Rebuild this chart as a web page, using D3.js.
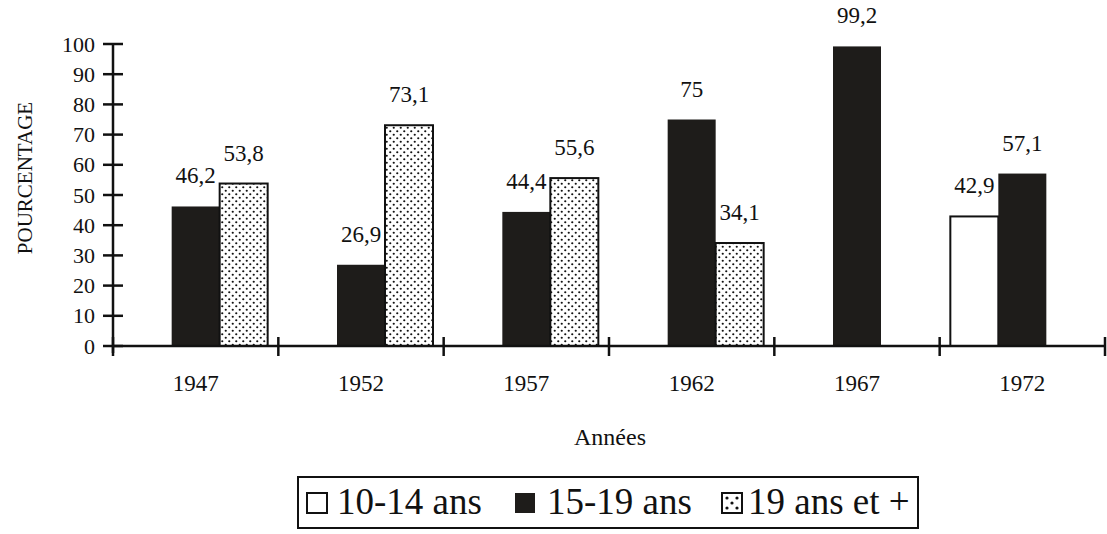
<!DOCTYPE html>
<html>
<head>
<meta charset="utf-8">
<script src="https://cdn.jsdelivr.net/npm/d3@7"></script>
<style>
  html, body { margin: 0; padding: 0; background: #fff; }
  svg { display: block; }
  svg text { font-family: 'Liberation Serif', 'DejaVu Serif', 'Times New Roman', Times, serif !important; fill: #111; }
</style>
</head>
<body>
<div id="chart"></div>
<script>
// ---- data ----
const years = ["1947", "1952", "1957", "1962", "1967", "1972"];
const seriesNames = ["10-14 ans", "15-19 ans", "19 ans et +"];
const s1014 = [null, null, null, null, null, 42.9];
const s1519 = [46.2, 26.9, 44.4, 75, 99.2, 57.1];
const s19p  = [53.8, 73.1, 55.6, 34.1, null, null];
const yTicks = [0, 10, 20, 30, 40, 50, 60, 70, 80, 90, 100];
const yLabel = "POURCENTAGE";
const xLabel = "Années";

const seriesValues = [s1014, s1519, s19p];

const W = 1107, H = 534;
const svg = d3.select("#chart").append("svg").attr("width", W).attr("height", H);

const defs = svg.append("defs");
const pat = defs.append("pattern").attr("id", "dots")
  .attr("patternUnits", "userSpaceOnUse").attr("width", 7).attr("height", 7);
pat.append("rect").attr("width", 7).attr("height", 7).attr("fill", "#fff");
pat.append("circle").attr("cx", 1.75).attr("cy", 1.75).attr("r", 1.1).attr("fill", "#111");
pat.append("circle").attr("cx", 5.25).attr("cy", 5.25).attr("r", 1.1).attr("fill", "#111");

const fills = ["#fff", "#1e1c1a", "url(#dots)"];

const x0 = 113, x1 = 1105, yBase = 346, yTop = 44;
const x = d3.scaleBand().domain(years).range([x0, x1]).padding(0);
const groupW = 144;
const xs = d3.scaleBand().domain(seriesNames).range([0, groupW]).padding(0);
const gOff = (x.bandwidth() - groupW) / 2;
const y = d3.scaleLinear().domain([0, 100]).range([yBase, yTop]);

const fmt = v => String(v).replace(".", ",");

// bars
seriesNames.forEach((name, si) => {
  const data = years.map((yr, i) => ({ yr, v: seriesValues[si][i] })).filter(d => d.v != null);
  const g = svg.append("g");
  g.selectAll("rect").data(data).enter().append("rect")
    .attr("x", d => x(d.yr) + gOff + xs(name))
    .attr("y", d => y(d.v))
    .attr("width", xs.bandwidth())
    .attr("height", d => y(0) - y(d.v))
    .attr("fill", fills[si])
    .attr("stroke", "#111")
    .attr("stroke-width", si === 1 ? 0 : 2);
  g.selectAll("text").data(data).enter().append("text")
    .attr("x", d => x(d.yr) + gOff + xs(name) + xs.bandwidth() / 2)
    .attr("y", d => y(d.v) - 23)
    .attr("text-anchor", "middle")
    .attr("font-size", 23)
    .text(d => fmt(d.v));
});

// y axis
const yAxis = d3.axisLeft(y).tickValues(yTicks).tickSize(0).tickPadding(18);
const gy = svg.append("g").attr("transform", `translate(${x0},0)`).call(yAxis);
gy.attr("font-family", null);
gy.select(".domain").remove();
gy.selectAll("text").attr("font-size", 22).attr("fill", "#111");
svg.append("line").attr("x1", x0).attr("x2", x0).attr("y1", y(100)).attr("y2", yBase + 7)
  .attr("stroke", "#111").attr("stroke-width", 2.5);
svg.selectAll(".ytick").data(yTicks).enter().append("line")
  .attr("x1", x0 - 10).attr("x2", x0 + 10)
  .attr("y1", d => y(d)).attr("y2", d => y(d))
  .attr("stroke", "#111").attr("stroke-width", 2.5);

// x axis
svg.append("line").attr("x1", x0).attr("x2", x1).attr("y1", yBase).attr("y2", yBase)
  .attr("stroke", "#111").attr("stroke-width", 2.5);
const bounds = years.map(yr => x(yr)).concat([x1]);
svg.selectAll(".xtick").data(bounds).enter().append("line")
  .attr("x1", d => d).attr("x2", d => d)
  .attr("y1", yBase - 9).attr("y2", yBase + 10)
  .attr("stroke", "#111").attr("stroke-width", 2.5);
const xAxis = d3.axisBottom(x).tickSize(0).tickPadding(0);
const gx = svg.append("g").attr("transform", `translate(0,${yBase})`).call(xAxis);
gx.attr("font-family", null);
gx.select(".domain").remove();
gx.selectAll("text").attr("font-size", 23).attr("fill", "#111").attr("dy", null).attr("y", 45);

// axis titles
svg.append("text").attr("transform", `translate(32,178) rotate(-90)`)
  .attr("text-anchor", "middle").attr("font-size", 21).text(yLabel);
svg.append("text").attr("x", 610).attr("y", 445)
  .attr("text-anchor", "middle").attr("font-size", 24).text(xLabel);

// legend
svg.append("rect").attr("x", 298).attr("y", 477).attr("width", 620).attr("height", 51)
  .attr("fill", "none").attr("stroke", "#111").attr("stroke-width", 2);
const legX = [307, 515, 722];
const legTX = [337, 547, 748];
seriesNames.forEach((name, si) => {
  svg.append("rect").attr("x", legX[si]).attr("y", 493).attr("width", 20).attr("height", 20)
    .attr("fill", si === 2 ? "#fff" : fills[si]).attr("stroke", "#111").attr("stroke-width", si === 1 ? 0 : 2);
  if (si === 2) {
    [[5,5],[15,5],[10,10],[5,15],[15,15]].forEach(p => {
      svg.append("circle").attr("cx", legX[si] + p[0]).attr("cy", 493 + p[1]).attr("r", 1.6).attr("fill", "#111");
    });
  }
  svg.append("text").attr("x", legTX[si]).attr("y", 514).attr("font-size", 37).text(name);
});
</script>
</body>
</html>
